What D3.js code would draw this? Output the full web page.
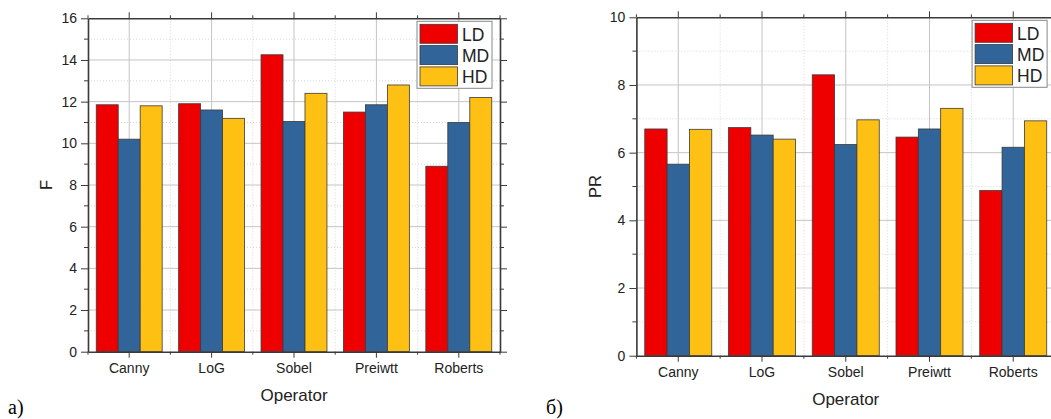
<!DOCTYPE html>
<html>
<head>
<meta charset="utf-8">
<script src="https://cdn.jsdelivr.net/npm/d3@7"></script>
<style>
  body { margin: 0; background: #fff; }
  svg { display: block; font-family: "Liberation Sans", Arial, sans-serif; }
  .axis path, .axis line { stroke: #3a3a3a; }
  .axis text { fill: #222; }
</style>
</head>
<body>
<script>
// operators on the x axis
var operators = ["Canny", "LoG", "Sobel", "Preiwtt", "Roberts"];
var seriesNames = ["LD", "MD", "HD"];
var seriesColors = ["#ee0000", "#31659a", "#fdc013"];

// panel a) F values, one array per series
var fLD = [11.85, 11.9, 14.25, 11.5, 8.9];
var fMD = [10.2, 11.6, 11.05, 11.85, 11.0];
var fHD = [11.8, 11.2, 12.4, 12.8, 12.2];

// panel б) PR values
var prLD = [6.7, 6.74, 8.3, 6.46, 4.88];
var prMD = [5.66, 6.52, 6.24, 6.7, 6.16];
var prHD = [6.69, 6.4, 6.97, 7.31, 6.94];

var fTicks = [0, 2, 4, 6, 8, 10, 12, 14, 16];
var prTicks = [0, 2, 4, 6, 8, 10];

var W = 1051, H = 419;

var svg = d3.select("body").append("svg")
    .attr("width", W)
    .attr("height", H);

function drawPanel(box, series, yMax, majorTicks, yLabel, panelLabel, labelX) {
    var g = svg.append("g").attr("transform", "translate(" + box.x + "," + box.y + ")");
    var w = box.w, h = box.h;

    var x = d3.scaleBand().domain(operators).range([0, w]).padding(0);
    var x1 = d3.scaleBand().domain(seriesNames).range([0, x.bandwidth() * 0.8]).padding(0);
    var y = d3.scaleLinear().domain([0, yMax]).range([h, 0]);

    var minorY = d3.range(1, yMax, 2);
    var bounds = d3.range(0, operators.length + 1).map(function(i) { return i * x.bandwidth(); });

    // gridlines
    var grid = g.append("g");
    grid.selectAll(".ymin").data(minorY).enter().append("line")
        .attr("x1", 0).attr("x2", w)
        .attr("y1", function(d) { return y(d); }).attr("y2", function(d) { return y(d); })
        .attr("stroke", "#d6d6d6").attr("stroke-dasharray", "1,2");
    grid.selectAll(".xmin").data(bounds).enter().append("line")
        .attr("x1", function(d) { return d; }).attr("x2", function(d) { return d; })
        .attr("y1", 0).attr("y2", h)
        .attr("stroke", "#d6d6d6").attr("stroke-dasharray", "1,2");
    grid.selectAll(".ymaj").data(majorTicks.slice(1, -1)).enter().append("line")
        .attr("x1", 0).attr("x2", w)
        .attr("y1", function(d) { return y(d); }).attr("y2", function(d) { return y(d); })
        .attr("stroke", "#c4c4c4");
    grid.selectAll(".xmaj").data(operators).enter().append("line")
        .attr("x1", function(d) { return x(d) + x.bandwidth() / 2; })
        .attr("x2", function(d) { return x(d) + x.bandwidth() / 2; })
        .attr("y1", 0).attr("y2", h)
        .attr("stroke", "#c4c4c4");

    // bars
    var groups = g.selectAll(".grp").data(operators).enter().append("g")
        .attr("transform", function(d) { return "translate(" + (x(d) + x.bandwidth() * 0.1) + ",0)"; });
    groups.selectAll("rect")
        .data(function(d, i) { return seriesNames.map(function(s, k) { return {s: s, k: k, v: series[k][i]}; }); })
        .enter().append("rect")
        .attr("x", function(d) { return x1(d.s); })
        .attr("width", x1.bandwidth())
        .attr("y", function(d) { return y(d.v); })
        .attr("height", function(d) { return h - y(d.v); })
        .attr("fill", function(d) { return seriesColors[d.k]; })
        .attr("stroke", "#3a3a3a")
        .attr("stroke-width", 0.8);

    // axes: bottom / top with category ticks, minor at band edges
    var bx = d3.axisBottom(x).tickSize(6).tickSizeOuter(0).tickPadding(5);
    var gb = g.append("g").attr("class", "axis").attr("transform", "translate(0," + h + ")").call(bx);
    gb.selectAll("text").style("font-size", "14px");
    gb.select(".domain").attr("stroke-width", 1.6);
    gb.selectAll(".minor").data(bounds).enter().append("line")
        .attr("x1", function(d) { return d; }).attr("x2", function(d) { return d; })
        .attr("y1", 0).attr("y2", 3).attr("stroke", "#3a3a3a");

    var gt = g.append("g").attr("class", "axis")
        .call(d3.axisTop(x).tickSize(6).tickSizeOuter(0).tickFormat(""));
    gt.select(".domain").attr("stroke-width", 1.6);
    gt.selectAll(".minor").data(bounds).enter().append("line")
        .attr("x1", function(d) { return d; }).attr("x2", function(d) { return d; })
        .attr("y1", 0).attr("y2", -3).attr("stroke", "#3a3a3a");

    var gl = g.append("g").attr("class", "axis")
        .call(d3.axisLeft(y).tickValues(majorTicks).tickSize(7).tickSizeOuter(0).tickPadding(4));
    gl.selectAll("text").style("font-size", "14px");
    gl.select(".domain").attr("stroke-width", 1.6);
    gl.selectAll(".minor").data(minorY).enter().append("line")
        .attr("y1", function(d) { return y(d); }).attr("y2", function(d) { return y(d); })
        .attr("x1", 0).attr("x2", -4).attr("stroke", "#3a3a3a");

    var gr = g.append("g").attr("class", "axis").attr("transform", "translate(" + w + ",0)")
        .call(d3.axisRight(y).tickValues(majorTicks).tickSize(7).tickSizeOuter(0).tickFormat(""));
    gr.select(".domain").attr("stroke-width", 1.6);
    gr.selectAll(".minor").data(minorY).enter().append("line")
        .attr("y1", function(d) { return y(d); }).attr("y2", function(d) { return y(d); })
        .attr("x1", 0).attr("x2", 4).attr("stroke", "#3a3a3a");

    // axis titles
    g.append("text")
        .attr("text-anchor", "middle")
        .attr("transform", "translate(" + (-box.x + labelX) + "," + (h / 2) + ")rotate(-90)")
        .style("font-size", "16.5px").attr("fill", "#222")
        .text(yLabel);
    g.append("text")
        .attr("text-anchor", "middle")
        .attr("x", w / 2).attr("y", h + 49)
        .style("font-size", "17px").attr("fill", "#222")
        .text("Operator");

    // legend
    var lg = g.append("g").attr("transform", "translate(" + (w - 83) + ",3)");
    lg.append("rect").attr("width", 75).attr("height", 67)
        .attr("fill", "#fff").attr("stroke", "#888").attr("stroke-width", 1);
    seriesNames.forEach(function(s, k) {
        lg.append("rect")
            .attr("x", 3).attr("y", 3 + k * 21.3).attr("width", 37.5).attr("height", 19)
            .attr("fill", seriesColors[k]).attr("stroke", "#3a3a3a").attr("stroke-width", 0.8);
        lg.append("text")
            .attr("x", 45).attr("y", 19.5 + k * 21.3)
            .style("font-size", "17.5px").attr("fill", "#222")
            .text(s);
    });

    // panel letter
    svg.append("text")
        .attr("x", panelLabel.x).attr("y", 414)
        .style("font-family", "'Liberation Serif', 'Times New Roman', serif")
        .style("font-size", "20px")
        .text(panelLabel.t);
}

drawPanel({x: 88, y: 18.3, w: 412, h: 333.4}, [fLD, fMD, fHD], 16, fTicks, "F", {x: 8, t: "а)"}, 52);
drawPanel({x: 636.4, y: 17.3, w: 418.7, h: 338.4}, [prLD, prMD, prHD], 10, prTicks, "PR", {x: 546, t: "б)"}, 601);
</script>
</body>
</html>
